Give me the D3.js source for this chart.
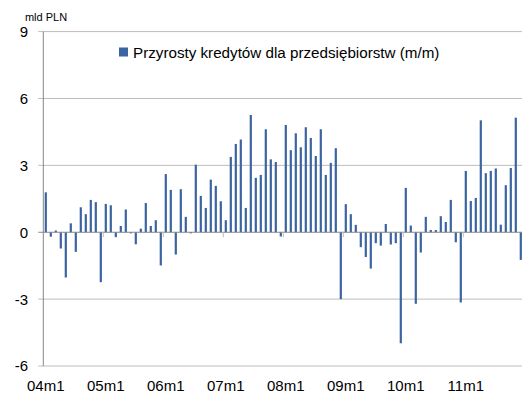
<!DOCTYPE html>
<html>
<head>
<meta charset="utf-8">
<script src="https://cdn.jsdelivr.net/npm/d3@7"></script>
<style>
  html, body { margin: 0; padding: 0; background: #fff; }
  svg { display: block; font-family: "Liberation Sans", Arial, sans-serif; }
</style>
</head>
<body>
<svg id="chart" width="522" height="394"></svg>
<script>
// Monthly increments of corporate loans, 2004-01 .. 2011-12 (bn PLN)
const years = ["04", "05", "06", "07", "08", "09", "10", "11"];
const months = years.flatMap(y => d3.range(1, 13).map(m => `${y}m${m}`));

const values = [
  // 2004
  1.79, -0.20, 0.08, -0.73, -2.03, 0.40, -0.88, 1.12, 0.81, 1.45, 1.35, -2.24,
  // 2005
  1.27, 1.21, -0.22, 0.28, 1.02, -0.05, -0.54, 0.16, 1.31, 0.28, 0.54, -1.49,
  // 2006
  2.61, 1.90, -1.00, 1.93, 0.69, -0.05, 3.03, 1.63, 1.09, 2.36, 2.08, 1.39,
  // 2007
  0.54, 3.38, 3.96, 4.16, 1.09, 5.26, 2.44, 2.57, 4.62, 3.27, 3.15, -0.19,
  // 2008
  4.81, 3.68, 4.44, 3.81, 4.71, 4.23, 3.42, 4.62, 2.57, 3.11, 3.77, -3.00,
  // 2009
  1.26, 0.81, 0.33, -0.67, -1.11, -1.63, -0.49, -0.60, 0.37, -0.55, -0.49, -4.98,
  // 2010
  1.99, 0.30, -3.21, -0.91, 0.69, 0.10, 0.10, 0.72, 0.46, 1.45, -0.45, -3.15,
  // 2011
  2.75, 1.40, 1.54, 5.02, 2.65, 2.75, 2.86, 0.34, 2.11, 2.88, 5.14, -1.24
];

const yTicks = [9, 6, 3, 0, -3, -6];
const xLabels = years.map(y => `${y}m1`);
const seriesName = "Przyrosty kredytów dla przedsiębiorstw (m/m)";
const unitLabel = "mld PLN";

const svg = d3.select("#chart");
const plotLeft = 43.3, plotTop = 31.6, plotBottom = 366;

const x = d3.scaleBand().domain(months).range([plotLeft, plotLeft + 5 * months.length]).padding(0);
const y = d3.scaleLinear().domain([-6, 9]).range([plotBottom, plotTop]);

// horizontal gridlines with short ticks to the left of the axis
svg.append("g")
  .selectAll("line")
  .data(yTicks.filter(d => d !== 0))
  .join("line")
  .attr("x1", plotLeft - 5).attr("x2", 522)
  .attr("y1", d => y(d)).attr("y2", d => y(d))
  .attr("stroke", "#bdbdbd").attr("stroke-width", 1);

// y tick labels
svg.append("g")
  .selectAll("text")
  .data(yTicks)
  .join("text")
  .attr("x", 28).attr("y", d => y(d))
  .attr("dy", "0.36em")
  .attr("text-anchor", "end")
  .attr("font-size", 15)
  .attr("fill", "#000")
  .text(d => d);

svg.append("text")
  .attr("x", 46).attr("y", 21)
  .attr("text-anchor", "middle")
  .attr("font-size", 11)
  .text(unitLabel);

// bars
const barW = 2.2;
svg.append("g")
  .selectAll("rect")
  .data(values)
  .join("rect")
  .attr("x", (d, i) => x(months[i]) + x.bandwidth() / 2 - barW / 2)
  .attr("width", barW)
  .attr("y", d => y(Math.max(0, d)))
  .attr("height", d => Math.abs(y(d) - y(0)))
  .attr("fill", "#3b64a0");

// y axis line
svg.append("line")
  .attr("x1", plotLeft).attr("x2", plotLeft)
  .attr("y1", plotTop).attr("y2", plotBottom)
  .attr("stroke", "#868686").attr("stroke-width", 1);

// x axis at zero with yearly ticks at category boundaries
svg.append("line")
  .attr("x1", plotLeft - 5).attr("x2", 522)
  .attr("y1", y(0)).attr("y2", y(0))
  .attr("stroke", "#868686").attr("stroke-width", 1.2);

svg.append("g")
  .selectAll("line")
  .data(xLabels.slice(1))
  .join("line")
  .attr("x1", d => x(d)).attr("x2", d => x(d))
  .attr("y1", y(0)).attr("y2", y(0) + 5)
  .attr("stroke", "#bdbdbd").attr("stroke-width", 1);

// x labels under the first month of each year
svg.append("g")
  .selectAll("text")
  .data(xLabels)
  .join("text")
  .attr("x", d => x(d) + x.bandwidth() / 2)
  .attr("y", 391)
  .attr("text-anchor", "middle")
  .attr("font-size", 15)
  .text(d => d);

// legend
const lg = svg.append("g");
lg.append("rect")
  .attr("x", 119).attr("y", 47.5)
  .attr("width", 9).attr("height", 9)
  .attr("fill", "#3b64a0");
lg.append("text")
  .attr("x", 133).attr("y", 57.5)
  .attr("font-size", 15.2)
  .text(seriesName);
</script>
</body>
</html>
